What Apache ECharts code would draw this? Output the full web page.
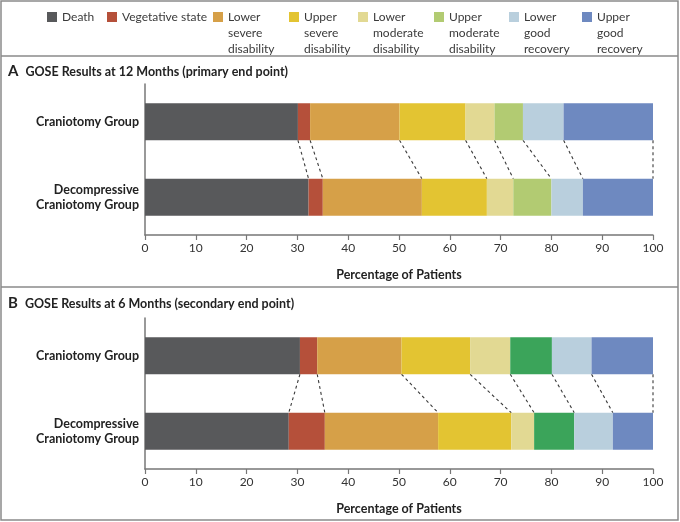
<!DOCTYPE html>
<html>
<head>
<meta charset="utf-8">
<script src="https://cdn.jsdelivr.net/npm/echarts@6/dist/echarts.min.js"></script>
<style>
  html, body { margin: 0; padding: 0; background: #fff; }
  #chart { width: 680px; height: 522px; }
</style>
</head>
<body>
<div id="chart"></div>
<script>
// groups (y axis) and outcome categories (stack order)
var groups = ['Craniotomy Group', 'Decompressive\nCraniotomy Group'];
var outcomes = ['Death', 'Vegetative state', 'Lower\nsevere\ndisability', 'Upper\nsevere\ndisability',
  'Lower\nmoderate\ndisability', 'Upper\nmoderate\ndisability', 'Lower\ngood\nrecovery', 'Upper\ngood\nrecovery'];

// percentages
var m12Craniotomy = [30.1, 2.4, 17.6, 13.0, 5.7, 5.6, 8.0, 17.6];
var m12Decompressive = [32.2, 2.8, 19.5, 12.8, 5.2, 7.5, 6.2, 13.8];
var m6Craniotomy = [30.5, 3.4, 16.6, 13.5, 7.9, 8.2, 7.8, 12.1];
var m6Decompressive = [28.3, 7.1, 22.3, 14.4, 4.5, 7.9, 7.6, 7.9];

var colorsA = ['#58595b', '#b5503a', '#d6a048', '#e3c432', '#e2d993', '#b2cb72', '#b9cfdd', '#6e89c0'];
var colorsB = ['#58595b', '#b5503a', '#d6a048', '#e3c432', '#e2d993', '#3ba45a', '#b9cfdd', '#6e89c0'];

var FONT = 'Lato';
var BAR_W = 37;
var legendWidths = [45, 91, 61, 54, 61, 60, 58, 60];

function cumulate(arr) {
  var out = [], s = 0;
  for (var i = 0; i < arr.length; i++) { s += arr[i]; out.push(s); }
  return out;
}

function connectorData(top, bottom) {
  var a = cumulate(top), b = cumulate(bottom), d = [];
  for (var i = 0; i < a.length; i++) d.push([a[i], b[i], 0]);
  return d;
}

function renderConnector(params, api) {
  var p1 = api.coord([api.value(0), 0]);
  var p2 = api.coord([api.value(1), 1]);
  return {
    type: 'line',
    shape: { x1: p1[0], y1: p1[1] + BAR_W / 2, x2: p2[0], y2: p2[1] - BAR_W / 2 },
    style: { stroke: '#3a3a3a', lineWidth: 1.1, lineDash: [3, 3] }
  };
}

var series = [];
function addPanel(idx, top, bottom, colors) {
  for (var i = 0; i < outcomes.length; i++) {
    series.push({
      type: 'bar',
      name: outcomes[i],
      stack: 'p' + idx,
      xAxisIndex: idx,
      yAxisIndex: idx,
      barWidth: BAR_W,
      itemStyle: { color: colors[i] },
      emphasis: { disabled: true },
      data: [top[i], bottom[i]]
    });
  }
  series.push({
    type: 'custom',
    xAxisIndex: idx,
    yAxisIndex: idx,
    encode: { x: [0, 1], y: 2 },
    clip: false,
    silent: true,
    renderItem: renderConnector,
    data: connectorData(top, bottom)
  });
}
addPanel(0, m12Craniotomy, m12Decompressive, colorsA);
addPanel(1, m6Craniotomy, m6Decompressive, colorsB);

function xAxis(idx) {
  return {
    gridIndex: idx,
    type: 'value',
    min: 0, max: 100, interval: 10,
    splitLine: { show: false },
    axisLine: { show: true, lineStyle: { color: '#777', width: 1.5 } },
    axisTick: { show: true, length: 5, lineStyle: { color: '#777', width: 1.2 } },
    axisLabel: { color: '#333', fontSize: 12, fontFamily: FONT, margin: 7 },
    name: 'Percentage of Patients',
    nameLocation: 'middle',
    nameGap: 33,
    nameTextStyle: { color: '#222', fontSize: 12.5, fontWeight: 'bold', fontFamily: FONT }
  };
}
function yAxis(idx) {
  return {
    gridIndex: idx,
    type: 'category',
    inverse: true,
    data: groups,
    axisLine: { show: true, lineStyle: { color: '#777', width: 1.5 } },
    axisTick: { show: false },
    axisLabel: { color: '#222', fontSize: 12.5, fontWeight: 'bold', fontFamily: FONT, margin: 6, lineHeight: 15 }
  };
}

var titleRich = {
  l: { fontSize: 15, fontWeight: 'bold', color: '#222', fontFamily: FONT },
  t: { fontSize: 12.5, fontWeight: 'bold', color: '#222', fontFamily: FONT, padding: [0, 0, 0, 7] }
};

var option = {
  backgroundColor: '#fff',
  animation: false,
  title: [
    { left: 8, top: 64, padding: 0, text: '{l|A}{t|GOSE Results at 12 Months (primary end point)}', textStyle: { rich: titleRich } },
    { left: 8, top: 296, padding: 0, text: '{l|B}{t|GOSE Results at 6 Months (secondary end point)}', textStyle: { rich: titleRich } }
  ],
  legend: {
    left: 47,
    top: -23,
    padding: 0,
    itemGap: 0,
    itemWidth: 10,
    itemHeight: 10,
    icon: 'rect',
    selectedMode: false,
    textStyle: { color: '#3a3a3a', fontSize: 12, fontFamily: FONT, lineHeight: 16 },
    // push the wrapped labels down so their first line sits beside the swatch
    formatter: function (name) {
      var lines = name.split('\n').length;
      return lines > 1 ? new Array(lines).join('\n') + name : name;
    },
    data: outcomes.map(function (n, i) {
      return {
        name: n,
        itemStyle: { color: colorsA[i] },
        textStyle: { width: legendWidths[i] }
      };
    })
  },
  grid: [
    { left: 145, right: 27, top: 84, height: 151 },
    { left: 145, right: 27, top: 318, height: 151 }
  ],
  xAxis: [xAxis(0), xAxis(1)],
  yAxis: [yAxis(0), yAxis(1)],
  series: series,
  graphic: [
    { type: 'rect', shape: { x: 1, y: 1, width: 677, height: 519 }, style: { fill: 'none', stroke: '#8a8a8a', lineWidth: 1.5 }, silent: true },
    { type: 'line', shape: { x1: 1, y1: 56, x2: 678, y2: 56 }, style: { stroke: '#8a8a8a', lineWidth: 1.5 }, silent: true },
    { type: 'line', shape: { x1: 1, y1: 287, x2: 678, y2: 287 }, style: { stroke: '#8a8a8a', lineWidth: 1.5 }, silent: true }
  ]
};

var chart = echarts.init(document.getElementById('chart'));
chart.setOption(option);
</script>
</body>
</html>
